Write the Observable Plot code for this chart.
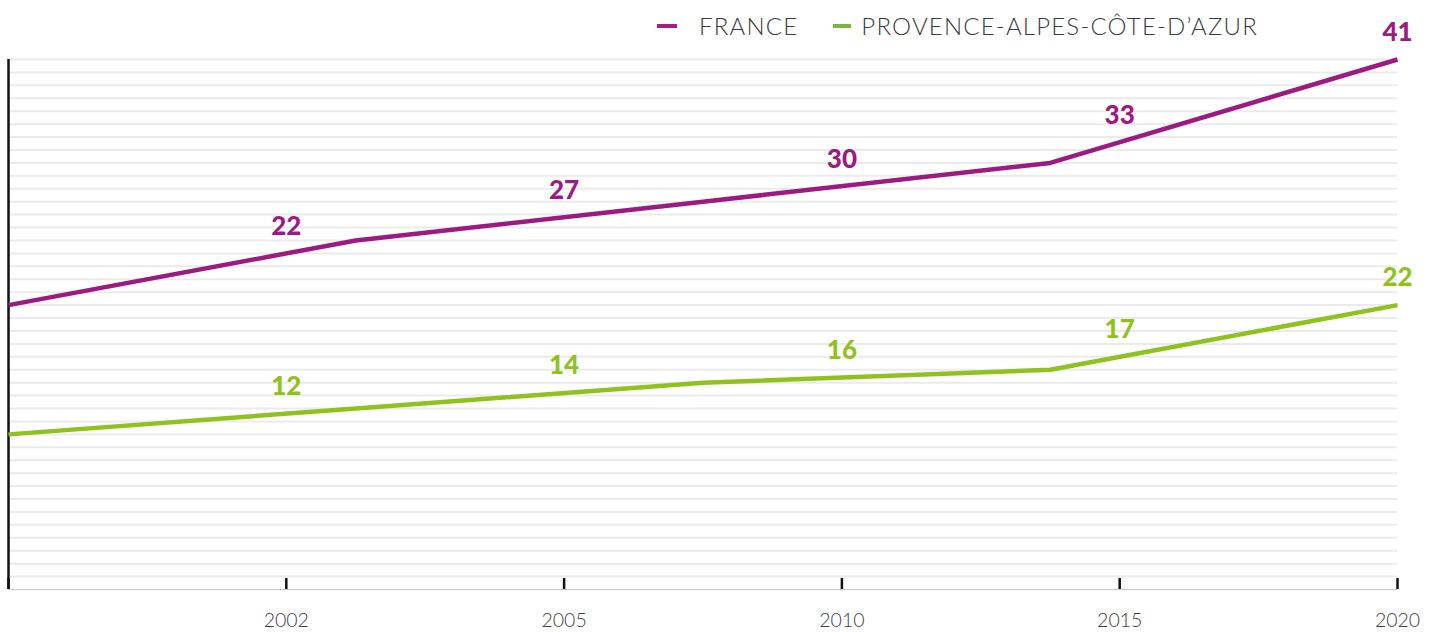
<!DOCTYPE html>
<html><head><meta charset="utf-8">
<script src="https://cdn.jsdelivr.net/npm/d3@7"></script>
<script src="https://cdn.jsdelivr.net/npm/@observablehq/plot@0.6"></script>
<style>
body{margin:0;background:#fff;}
#wrap{position:relative;width:1435px;height:632px;overflow:hidden;}
#legend{position:absolute;top:11px;left:657px;display:flex;align-items:center;font-family:Lato,sans-serif;font-weight:300;font-size:24px;letter-spacing:1.2px;color:#3a3a44;white-space:nowrap;}
#legend .sw{display:inline-block;height:4px;}
#chart{position:absolute;top:0;left:0;}
</style></head><body>
<div id="wrap"><div id="chart"></div><div id="legend"></div></div>
<script>
// Data
const tickLabels = ["", "2002", "2005", "2010", "2015", "2020"];
const pointYears = ["2002", "2005", "2010", "2015", "2020"];
const france = [22, 27, 30, 33, 41];
const paca = [12, 14, 16, 17, 22];
const seriesNames = ["FRANCE", "PROVENCE-ALPES-CÔTE-D’AZUR"];
const lineColors = ["#9b1b80", "#8fc21f"];
const legendColors = ["#a51d84", "#78b545"];

const nT = tickLabels.length - 1;      // tick intervals
const nP = pointYears.length - 1;      // line intervals
const series = [france, paca];

// line vertices: spread evenly across the full axis width
const lineData = series.flatMap((vals, s) => vals.map((v, i) => ({s, x: i * nT / nP, y: v})));
// value labels: at the tick of their year, anchored on the line
const interp = (vals, pos) => { const k = Math.min(Math.floor(pos), vals.length - 2); const f = pos - k; return vals[k] + (vals[k + 1] - vals[k]) * f; };
const labelData = series.flatMap((vals, s) => vals.map((v, i) => {
  const tx = tickLabels.indexOf(pointYears[i]);
  return {s, x: tx, y: interp(vals, tx * nP / nT), v};
}));
const gridVals = d3.range(1, 42);
const tickPos = d3.range(0, tickLabels.length);

const plot = Plot.plot({
  width: 1435, height: 632,
  marginLeft: 8, marginRight: 38, marginTop: 59, marginBottom: 43,
  x: {domain: [0, nT], axis: null, label: null},
  y: {domain: [0, 41], axis: null, label: null},
  style: {background: "#fff", overflow: "visible"},
  marks: [
    Plot.ruleY(gridVals, {y: d => d, stroke: "#ebebeb", strokeWidth: 2}),
    Plot.ruleY([0], {stroke: "#c8c8c8", strokeWidth: 1.2}),
    Plot.tickX(tickPos, {x: d => d, insetTop: 519, stroke: "#111", strokeWidth: 2.5}),
    Plot.ruleX([0], {stroke: "#111", strokeWidth: 2.5}),
    Plot.axisX({ticks: tickPos, tickFormat: i => tickLabels[i], tickSize: 0, tickPadding: 24, label: null,
      fontSize: 19.5, fontWeight: 300, fontFamily: "Lato, sans-serif", fill: "#3f3f46"}),
    Plot.line(lineData, {x: "x", y: "y", z: "s", stroke: d => lineColors[d.s], strokeWidth: 4.5, strokeLinejoin: "miter", strokeLinecap: "butt"}),
    Plot.text(labelData, {x: "x", y: "y", text: d => String(d.v), dy: -27, fill: d => lineColors[d.s],
      fontSize: 26, fontWeight: 900, fontFamily: "Lato, sans-serif"})
  ]
});
document.getElementById("chart").appendChild(plot);

// Legend
const legend = document.getElementById("legend");
const swW = [20, 18], swGapL = [0, 35], swGapR = [22, 10];
seriesNames.forEach((name, s) => {
  const sw = document.createElement("span");
  sw.className = "sw";
  sw.style.width = swW[s] + "px";
  sw.style.background = legendColors[s];
  sw.style.marginLeft = swGapL[s] + "px";
  sw.style.marginRight = swGapR[s] + "px";
  const t = document.createElement("span");
  t.textContent = name;
  legend.appendChild(sw);
  legend.appendChild(t);
});
</script>
</body></html>
